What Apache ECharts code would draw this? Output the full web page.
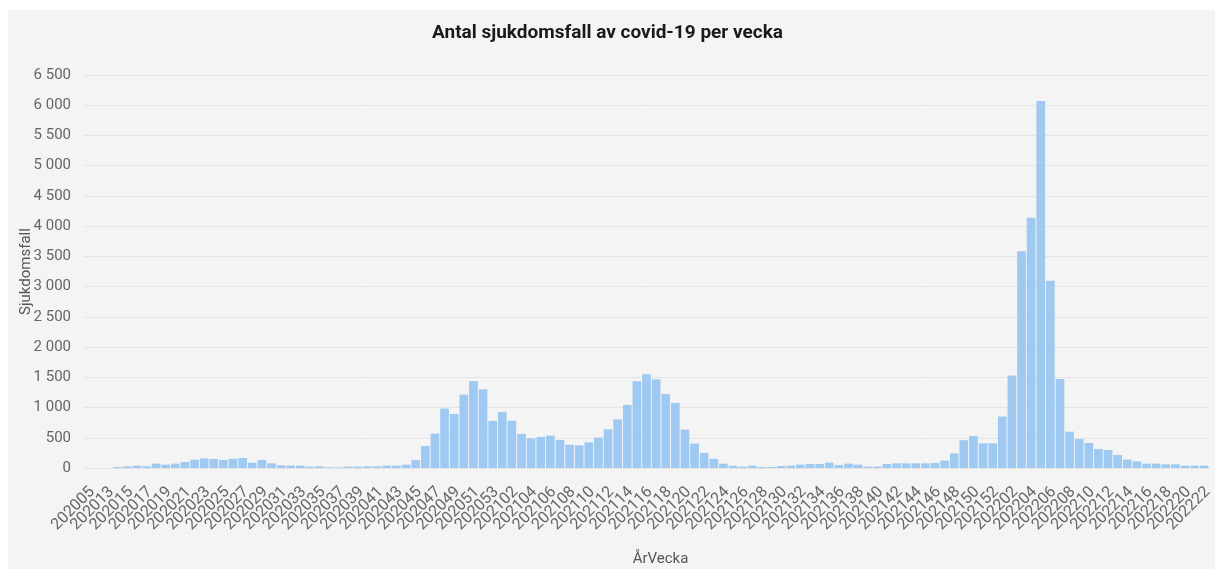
<!DOCTYPE html>
<html>
<head>
<meta charset="utf-8">
<script src="https://cdn.jsdelivr.net/npm/echarts@6/dist/echarts.min.js"></script>
<style>
  html, body { margin: 0; padding: 0; background: #ffffff; }
  #chart { width: 1215px; height: 569px; }
</style>
</head>
<body>
<div id="chart"></div>
<script>
// ÅrVecka categories (year + week)
var weeks2020 = ["202005", "202012",
  "202013", "202014", "202015", "202016", "202017", "202018", "202019", "202020",
  "202021", "202022", "202023", "202024", "202025", "202026", "202027", "202028",
  "202029", "202030", "202031", "202032", "202033", "202034", "202035", "202036",
  "202037", "202038", "202039", "202040", "202041", "202042", "202043", "202044",
  "202045", "202046", "202047", "202048", "202049", "202050", "202051", "202052",
  "202053"];
var weeks2021 = ["202101", "202102", "202103", "202104", "202105", "202106", "202107",
  "202108", "202109", "202110", "202111", "202112", "202113", "202114", "202115",
  "202116", "202117", "202118", "202119", "202120", "202121", "202122", "202123",
  "202124", "202125", "202126", "202127", "202128", "202129", "202130", "202131",
  "202132", "202133", "202134", "202135", "202136", "202137", "202138", "202139",
  "202140", "202141", "202142", "202143", "202144", "202145", "202146", "202147",
  "202148", "202149", "202150", "202151", "202152"];
var weeks2022 = ["202201", "202202", "202203", "202204", "202205", "202206", "202207",
  "202208", "202209", "202210", "202211", "202212", "202213", "202214", "202215",
  "202216", "202217", "202218", "202219", "202220", "202221", "202222"];

// Sjukdomsfall per vecka
var cases2020 = [0, 0, 0, 17, 28, 39, 28, 72, 55, 72,
  99, 138, 160, 149, 132, 154, 165, 88, 132, 77,
  44, 39, 39, 22, 28, 12, 10, 22, 22, 28,
  28, 39, 39, 55, 130, 364, 568, 982, 894, 1214,
  1440, 1302, 778];
var cases2021 = [927, 783, 563, 491, 513, 535, 463, 386, 375, 425,
  502, 640, 805, 1043, 1434, 1550, 1467, 1225, 1076, 634,
  403, 250, 152, 72, 36, 22, 39, 17, 17, 33,
  39, 55, 66, 66, 88, 50, 72, 55, 22, 22,
  66, 77, 77, 77, 77, 83, 121, 240, 460, 530,
  408, 408];
var cases2022 = [852, 1528, 3586, 4138, 6069, 3095, 1473, 601, 480, 414,
  314, 298, 215, 138, 110, 72, 72, 61, 61, 39,
  39, 39];

var yMax = 6500;
var yStep = 500;

var categories = weeks2020.concat(weeks2021, weeks2022);
var values = cases2020.concat(cases2021, cases2022);

// every second week gets a label; the labels are split over three
// stacked category axes so echarts does not drop the first/last ones
function labelAxis(offset, withName) {
  var axis = {
    type: "category",
    data: categories,
    position: "bottom",
    offset: 0,
    axisLine: { show: false },
    axisTick: { show: false },
    splitLine: { show: false },
    axisLabel: {
      interval: function (index) {
        return index % 6 === offset;
      },
      rotate: 45,
      margin: 18,
      hideOverlap: false,
      verticalAlign: "top",
      lineHeight: 10,
      fontFamily: "Roboto, sans-serif",
      fontSize: 16,
      color: "#666"
    }
  };
  if (withName) {
    axis.name = "ÅrVecka";
    axis.nameLocation = "middle";
    axis.nameGap = 84;
    axis.nameMoveOverlap = false;
    axis.nameTextStyle = {
      fontFamily: "Roboto, sans-serif",
      fontSize: 15,
      color: "#555",
      padding: [0, 0, 0, 28]
    };
  }
  return axis;
}

var chart = echarts.init(document.getElementById("chart"));

var option = {
  backgroundColor: "#ffffff",
  animation: false,
  graphic: [
    {
      type: "rect",
      left: 8,
      top: 10,
      z: -10,
      shape: { width: 1207, height: 559 },
      style: { fill: "#f4f4f4" }
    }
  ],
  title: {
    text: "Antal sjukdomsfall av covid-19 per vecka",
    left: "center",
    top: 19,
    textStyle: {
      fontFamily: "Roboto, sans-serif",
      fontSize: 19,
      fontWeight: "bold",
      color: "#1a1a1a"
    }
  },
  grid: {
    left: 84,
    right: 6,
    top: 75,
    bottom: 101,
    containLabel: false,
    outerBoundsMode: "none"
  },
  xAxis: [labelAxis(0, true), labelAxis(2, false), labelAxis(4, false)],
  yAxis: {
    type: "value",
    min: 0,
    max: yMax,
    interval: yStep,
    name: "Sjukdomsfall",
    nameLocation: "middle",
    nameGap: 50,
    nameMoveOverlap: false,
    nameTextStyle: {
      fontFamily: "Roboto, sans-serif",
      fontSize: 15,
      color: "#555"
    },
    axisLabel: {
      margin: 13,
      fontFamily: "Roboto, sans-serif",
      fontSize: 15,
      color: "#666",
      formatter: function (v) {
        return String(v).replace(/\B(?=(\d{3})+(?!\d))/g, " ");
      }
    },
    splitLine: { lineStyle: { color: "#e4e4e4", width: 1 } }
  },
  series: [
    {
      name: "Sjukdomsfall",
      type: "bar",
      xAxisIndex: 0,
      data: values,
      barCategoryGap: "10%",
      itemStyle: {
        color: "#9ec9f2"
      }
    }
  ]
};

chart.setOption(option);
</script>
</body>
</html>
